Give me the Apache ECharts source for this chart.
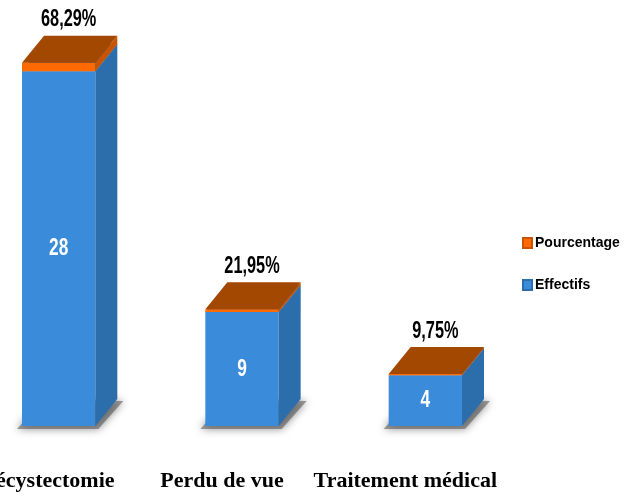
<!DOCTYPE html>
<html lang="fr">
<head>
    <meta charset="UTF-8">
    <title>Effectifs et pourcentage</title>
    <script src="https://cdn.jsdelivr.net/npm/echarts@6.0.0/dist/echarts.min.js"></script>
    <style>
        html, body { margin: 0; padding: 0; background: #fff; }
    </style>
</head>
<body>
    <div id="main" style="width: 634px; height: 497px;"></div>

    <script type="text/javascript">
        // valeurs
        let categories = ['Cholécystectomie', 'Perdu de vue', 'Traitement médical']
        let effectifs = [28, 9, 4]
        let pourcentage = [68.29, 21.95, 9.75]   // en %, empilé comme fraction (Excel)

        const sans = '"Liberation Sans", Arial, sans-serif'
        const serif = '"Liberation Serif", "Times New Roman", serif'
        const depthX = 22, depthY = -27

        const colors = {
            effectifs: {front: '#3A8CDB', side: '#2C6EAC', top: '#2C6EAC'},
            pourcentage: {front: '#FF6A00', side: '#C95400', top: '#A34800'}
        }

        function box(api, c, withShadow) {
            let cat = api.value(0)
            let top = api.coord([cat, api.value(1)])
            let base = api.coord([cat, api.value(2)])
            let w = api.size([1, 0])[0] * 0.4
            let x0 = top[0] - w / 2, x1 = top[0] + w / 2
            let yt = top[1], yb = base[1]
            let children = []
            if (withShadow) {
                // ombre douce au sol
                children.push({
                    type: 'polygon',
                    shape: {points: [[x0 - 5, yb + 3], [x1 + 3, yb + 3], [x1 + depthX + 6, yb + depthY + 2], [x0 + depthX, yb + depthY]]},
                    style: {fill: 'rgba(80,80,80,0.55)', shadowBlur: 8, shadowColor: 'rgba(0,0,0,0.8)'}
                })
            }
            children.push(
                {type: 'rect', shape: {x: x0, y: yt, width: w, height: yb - yt}, style: {fill: c.front}},
                {type: 'polygon', shape: {points: [[x1, yt], [x1 + depthX, yt + depthY], [x1 + depthX, yb + depthY], [x1, yb]]}, style: {fill: c.side}},
                {type: 'polygon', shape: {points: [[x0, yt], [x0 + depthX, yt + depthY], [x1 + depthX, yt + depthY], [x1, yt]]}, style: {fill: c.top}}
            )
            return {children, x0, x1, yt, yb, cx: top[0]}
        }

        // texte étroit (police condensée simulée)
        function narrowText(text, x, y, color, size, sx) {
            return {
                type: 'text',
                x: x, y: y,
                scaleX: sx,
                style: {
                    text: text, x: 0, y: 0,
                    fill: color, align: 'center', verticalAlign: 'middle',
                    fontFamily: sans, fontWeight: 'bold', fontSize: size
                }
            }
        }

        let effData = effectifs.map((v, i) => [i, v, 0])
        let pctData = pourcentage.map((v, i) => [i, effectifs[i] + v / 100, effectifs[i]])

        let options = {
            animation: false,
            grid: {left: -33, right: 117, top: 46, bottom: 71, outerBoundsMode: 'none'},
            legend: {
                data: ['Pourcentage', 'Effectifs'],
                orient: 'vertical',
                left: 517, top: 231,
                itemGap: 28,
                itemWidth: 9, itemHeight: 10,
                icon: 'rect',
                textStyle: {fontFamily: sans, fontWeight: 'bold', fontSize: 14, color: '#000', padding: [0, 0, 0, -2]}
            },
            xAxis: {
                type: 'category',
                data: categories,
                axisLine: {show: false},
                axisTick: {show: false},
                axisLabel: {
                    interval: 0,
                    margin: 44,
                    padding: [0, 40, 0, 0],
                    fontFamily: serif,
                    fontWeight: 'bold',
                    fontSize: 22,
                    color: '#000',
                    formatter: (v, i) => i === 0 ? '{first|' + v + '}' : v,
                    rich: {
                        first: {fontFamily: serif, fontWeight: 'bold', fontSize: 22, color: '#000', padding: [0, 12, 0, 0]}
                    }
                }
            },
            yAxis: {type: 'value', min: 0, max: 30, show: false},
            series: [
                {
                    name: 'Effectifs',
                    type: 'custom',
                    z: 2,
                    itemStyle: {color: colors.effectifs.front, borderColor: '#2C6EAC', borderWidth: 1},
                    data: effData,
                    renderItem: function (params, api) {
                        let b = box(api, colors.effectifs, true)
                        b.children.push(narrowText(String(effectifs[params.dataIndex]), b.cx, (b.yt + b.yb) / 2, '#fff', 24, 0.72))
                        return {type: 'group', children: b.children}
                    }
                },
                {
                    name: 'Pourcentage',
                    type: 'custom',
                    z: 3,
                    itemStyle: {color: colors.pourcentage.front, borderColor: '#C95400', borderWidth: 1},
                    data: pctData,
                    renderItem: function (params, api) {
                        let b = box(api, colors.pourcentage, false)
                        let label = pourcentage[params.dataIndex].toFixed(2).replace('.', ',') + '%'
                        b.children.push(narrowText(label, b.cx + 10, b.yt - 43, '#000', 24, 0.68))
                        return {type: 'group', children: b.children}
                    }
                }
            ]
        }

        let myChart = echarts.init(document.getElementById('main'))
        myChart.setOption(options)
    </script>
</body>
</html>
